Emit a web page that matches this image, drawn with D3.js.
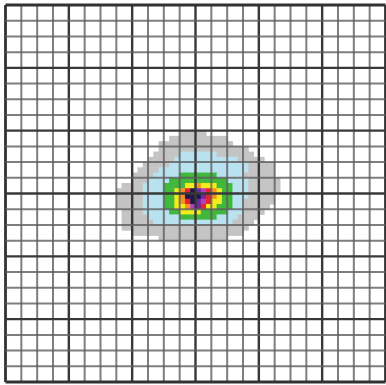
<!DOCTYPE html>
<html><head><meta charset="utf-8">
<script src="https://cdn.jsdelivr.net/npm/d3@7"></script>
<style>body{margin:0;background:#fff}svg{display:block}</style>
</head><body><svg id="chart" width="386" height="385"></svg>
<script>
// grid definition
const gridCells = 24;        // grid cells per side
const majorEvery = 4;        // every 4th line is a major line
const subPerCell = 3;        // heat-map cells per grid cell
// heat-map block placement (in heat-cell units)
const heatColStart = 21;
const heatRowStart = 24;
// level -> colour
const levelKeys = ["1","2","3","4","5","6","7","8","9"];
const levelColors = ["#c4c4c4","#b8e2f0","#3fb83a","#f2ec1a","#f39422","#e8242c","#b63cc0","#6a2aa0","#1c1448"];
// intensity levels ('.' = empty), one string per heat row
const heatRows = [
  "............" + "11111",
  ".........." + "11111" + "111111",
  "........" + "11111" + "11111" + "1111",
  "........" + "11111" + "11111" + "11111" + "11",
  "......." + "11111" + "2222222" + "1111111",
  "......" + "11111" + "222222" + "222222" + "11111",
  "....." + "11111" + "22222" + "22222" + "22222" + "11111",
  "...." + "1111" + "22222" + "22222" + "22222" + "22" + "11111",
  "..." + "1111" + "22222" + "3333333" + "22222" + "111111",
  "..." + "111" + "2222" + "33333" + "333333" + "2222" + "111111",
  "." + "1111" + "2222" + "3333" + "445444" + "333" + "222" + "111111",
  "11111" + "2222" + "33" + "456987654" + "33" + "222" + "111111",
  "11111" + "2222" + "33" + "459998654" + "33" + "222" + "11111",
  "11111" + "2222" + "33" + "456987644" + "33" + "22" + "111111",
  "11111" + "2222" + "33" + "44578644" + "333" + "22" + "11111",
  "." + "1111" + "22222" + "33" + "4444" + "33333" + "222" + "1111",
  "." + "11111" + "222222" + "3333333" + "2222" + "1111",
  "." + "111111" + "22222" + "22222" + "22222" + "1111",
  "." + "11111" + "11111" + "11111" + "11111" + "1111",
  "..." + "11111" + "11111" + "11111" + "11111" + "1",
  "........" + "11111" + "11111" + "111",
];
</script>
<script>
const svg = d3.select("#chart");
const W = 386, H = 385;
const nSub = gridCells * subPerCell;
const x = d3.scaleLinear().domain([0, nSub]).range([5.5, 385.5]);
const y = d3.scaleLinear().domain([0, nSub]).range([5, 382]);
const color = d3.scaleOrdinal().domain(levelKeys).range(levelColors);

const defs = svg.append("defs");
defs.append("filter").attr("id", "soft").attr("x", "-2%").attr("y", "-2%").attr("width", "104%").attr("height", "104%")
  .append("feGaussianBlur").attr("stdDeviation", 0.55);

svg.append("rect").attr("width", W).attr("height", H).attr("fill", "#fff");
const root = svg.append("g").attr("filter", "url(#soft)");

// heat cells
const cells = [];
heatRows.forEach((row, r) => {
  [...row].forEach((ch, c) => {
    if (ch !== ".") cells.push({col: heatColStart + c, row: heatRowStart + r, level: ch});
  });
});
root.append("g").selectAll("rect").data(cells).join("rect")
  .attr("x", d => x(d.col))
  .attr("y", d => y(d.row))
  .attr("width", x(1) - x(0) + 0.5)
  .attr("height", y(1) - y(0) + 0.5)
  .attr("fill", d => color(d.level));

// grid lines
const lines = d3.range(0, gridCells + 1);
const g = root.append("g");
function styleLine(sel) {
  sel.attr("stroke", k => (k === 0 || k === gridCells) ? "#333" : (k % majorEvery === 0 ? "#383838" : "#5e5e5e"))
     .attr("stroke-width", k => (k === 0 || k === gridCells) ? 2.8 : (k % majorEvery === 0 ? 2.4 : 2.0))
     .attr("stroke-opacity", k => (k % majorEvery === 0) ? 1 : 0.8);
}
g.selectAll("line.v").data(lines).join("line").attr("class", "v")
  .attr("x1", k => x(k * subPerCell)).attr("x2", k => x(k * subPerCell))
  .attr("y1", y(0)).attr("y2", y(nSub))
  .call(styleLine);
g.selectAll("line.h").data(lines).join("line").attr("class", "h")
  .attr("y1", k => y(k * subPerCell)).attr("y2", k => y(k * subPerCell))
  .attr("x1", x(0)).attr("x2", x(nSub))
  .call(styleLine);
</script>
</body></html>
